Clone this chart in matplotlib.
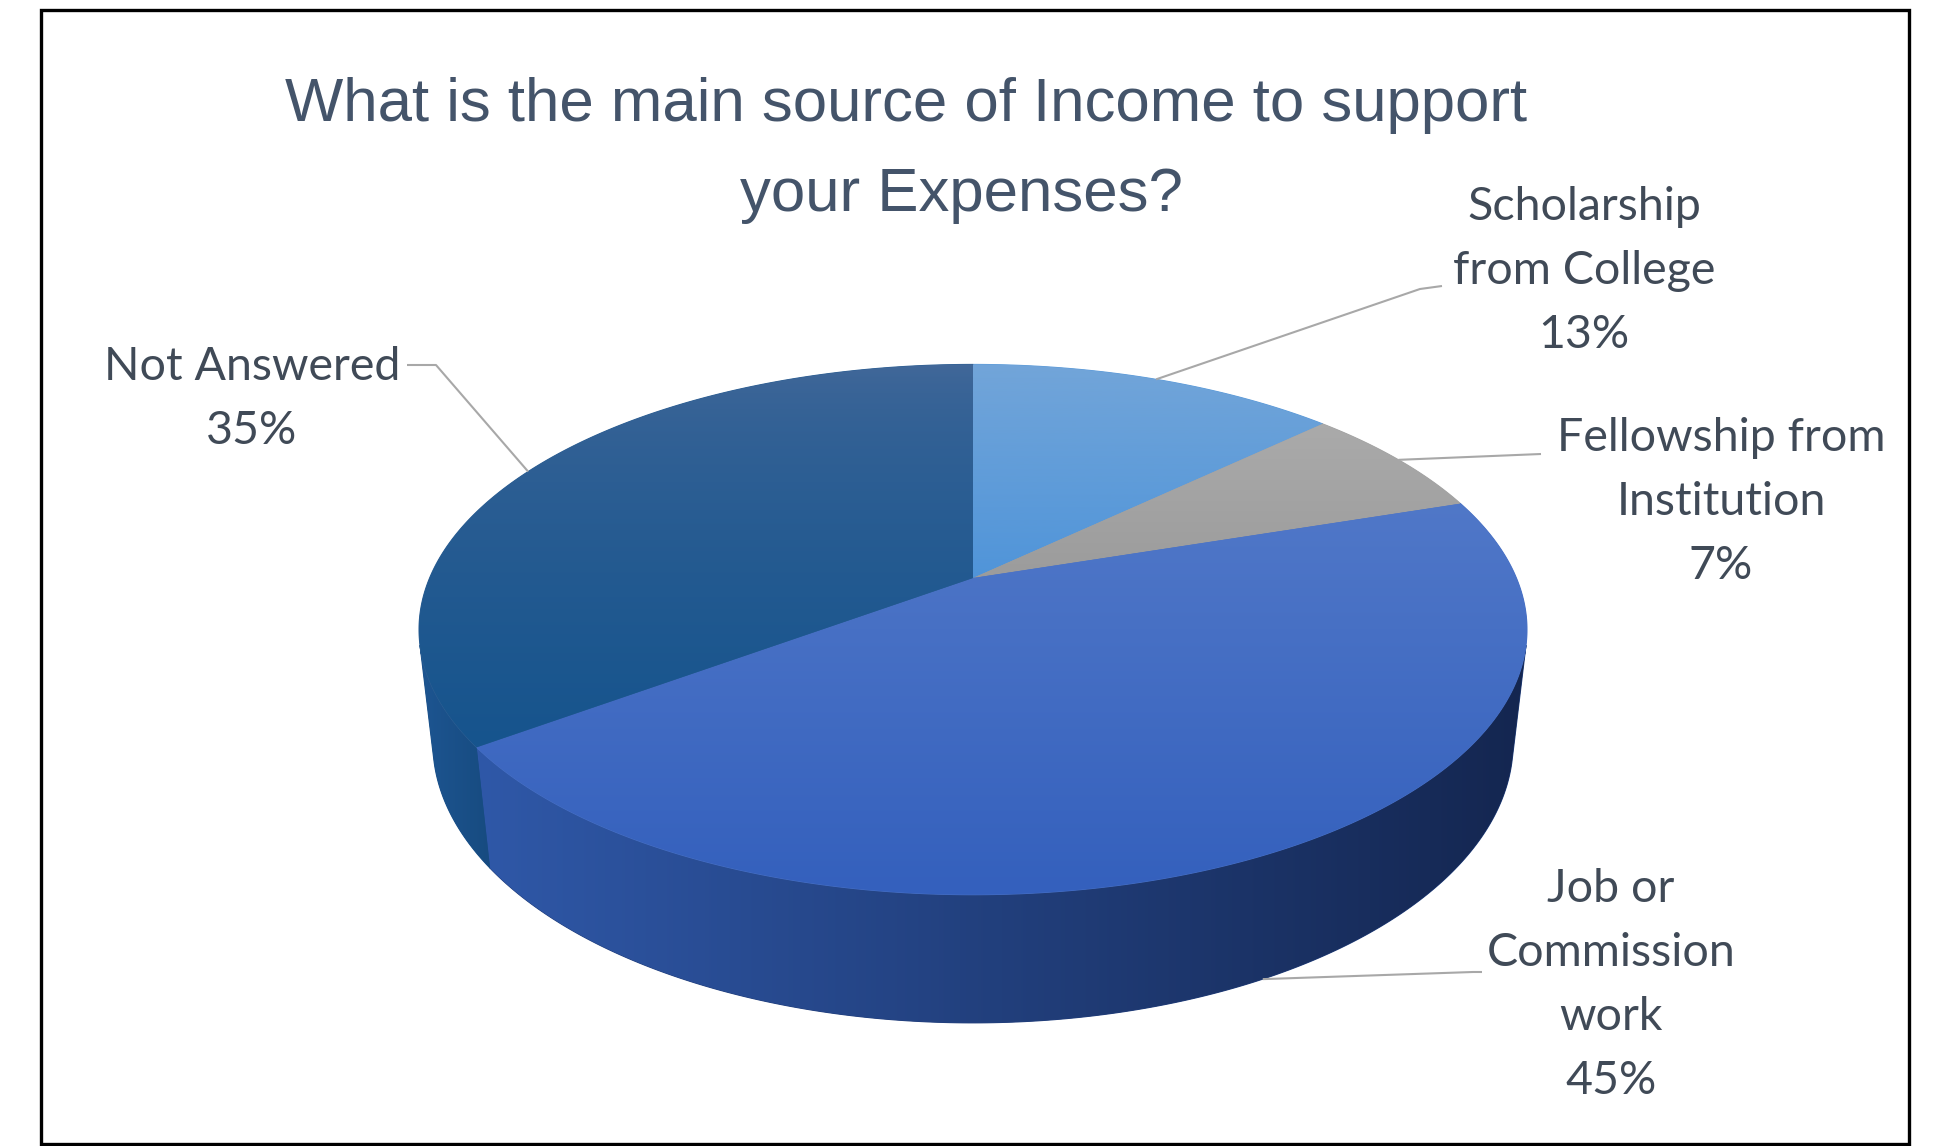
import numpy as np
import matplotlib
matplotlib.use('Agg')
import matplotlib.pyplot as plt
from matplotlib.patches import Polygon, Rectangle
from matplotlib.colors import to_rgb

# survey answers, clockwise from 12 o'clock
names = [['Scholarship', 'from College'],
         ['Fellowship from', 'Institution'],
         ['Job or', 'Commission', 'work'],
         ['Not Answered']]
shares = [13, 7, 45, 35]

top_colors = [('#72a5d9', '#4690d9'), ('#b0b0b0', '#969696'),
              ('#5a80cc', '#3460bd'), ('#44699a', '#16548d')]
top_gamma = [1.0, 1.0, 1.0, 0.55]
side_colors = [('#3a78b8', '#2a5f9a'), ('#7f7f7f', '#6a6a6a'),
               ('#2f58a8', '#142650'), ('#1d5591', '#174b80')]

# label placement (pixel coords): text centre x, first line y, elbow, end
label_pos = [(1584, 207), (1721, 438), (1611, 889), (252, 367)]
leader_pts = [[(1420, 289), (1442, 286)],
              [(1541, 454)],
              [(1473, 972), (1482, 972)],
              [(436, 365), (407, 365)]]
leader_z = [0, 0, 1, 0]   # 1 -> attach to the bottom rim

W, H = 1936, 1146
ELEV = np.radians(28.0)
DIST = 4.54
DEPTH = 0.238
FOCAL = 2467
CX, CY = 973, 578
LINE = 64


def project(theta, z=0.0, r=1.0):
    x = r * np.sin(theta)
    y = r * np.cos(theta)
    c, s = np.cos(ELEV), np.sin(ELEV)
    vy = y + DIST * c
    vz = z - DIST * s
    depth = vy * c - vz * s
    up = vy * s + vz * c
    return CX + FOCAL * x / depth, CY - FOCAL * up / depth


def blend(c0, c1, gamma=1.0, n=256):
    t = np.linspace(0, 1, n)[:, None] ** gamma
    return (1 - t) * np.array(to_rgb(c0)) + t * np.array(to_rgb(c1))


def gradient_poly(ax, xs, ys, c0, c1, extent, horizontal=False, gamma=1.0, z=1):
    pts = np.column_stack([xs, ys])
    mid = tuple(0.5 * (np.array(to_rgb(c0)) + np.array(to_rgb(c1))))
    base = Polygon(pts, closed=True, facecolor=mid, edgecolor=mid, lw=0.8, zorder=z)
    ax.add_patch(base)
    cols = blend(c0, c1, gamma)
    img = cols[None, :, :] if horizontal else cols[:, None, :]
    x0, x1, y0, y1 = extent
    im = ax.imshow(img, extent=(x0, x1, y1, y0), origin='upper', aspect='auto',
                   interpolation='bilinear', zorder=z + 0.1)
    im.set_clip_path(base)


fig = plt.figure(figsize=(W / 100, H / 100), dpi=100)
ax = fig.add_axes([0, 0, 1, 1])
ax.set_axis_off()

bounds = np.radians(np.concatenate([[0], np.cumsum(shares)]) * 3.6)
full = np.linspace(0, 2 * np.pi, 721)
rx, ry = project(full)
vis_cos = -1.0 / (DIST * np.cos(ELEV))

# outer walls (front facing part only)
for i in range(len(shares)):
    th = np.linspace(bounds[i], bounds[i + 1], 300)
    th = th[np.cos(th) < vis_cos]
    if len(th) < 2:
        continue
    tx, ty = project(th, 0)
    bx, by = project(th, -DEPTH)
    xs = np.concatenate([tx, bx[::-1]])
    ys = np.concatenate([ty, by[::-1]])
    gradient_poly(ax, xs, ys, side_colors[i][0], side_colors[i][1],
                  (xs.min(), xs.max(), ys.min(), ys.max()), horizontal=True, z=1)

# top faces
cx0, cy0 = project(0.0, 0, r=0.0)
for i in range(len(shares)):
    th = np.linspace(bounds[i], bounds[i + 1], 300)
    ax_, ay_ = project(th, 0)
    xs = np.concatenate([[cx0], ax_])
    ys = np.concatenate([[cy0], ay_])
    gradient_poly(ax, xs, ys, top_colors[i][0], top_colors[i][1],
                  (rx.min(), rx.max(), ry.min(), max(ys.max(), cy0 + 60)),
                  gamma=top_gamma[i], z=3)

# leader lines and labels
lab_font = ['Lato', 'DejaVu Sans']
for i in range(len(shares)):
    mid = 0.5 * (bounds[i] + bounds[i + 1])
    zz = -DEPTH if leader_z[i] else 0
    px, py = project(mid, zz, r=1.0)
    pts = [(px, py)] + leader_pts[i]
    ax.plot([p[0] for p in pts], [p[1] for p in pts], color='#a8a8a8', lw=1.5,
            zorder=5, solid_capstyle='butt')
    lines = names[i] + [f'{shares[i]}%']
    x, y = label_pos[i]
    for k, s in enumerate(lines):
        ax.text(x, y + k * LINE, s, ha='center', va='center', fontsize=33.5,
                family=lab_font, color='#404a57', zorder=6)

# title
ttl_font = ['Liberation Sans', 'DejaVu Sans']
ax.text(906, 106, 'What is the main source of Income to support', ha='center', va='center',
        fontsize=44.5, family=ttl_font, color='#44546a')
ax.text(961, 196, 'your Expenses?', ha='center', va='center',
        fontsize=44.5, family=ttl_font, color='#44546a')

# chart border
ax.add_patch(Rectangle((41, 10), 1868, 1134, fill=False, edgecolor='black', lw=2.4, zorder=7))

ax.set_xlim(0, W)
ax.set_ylim(H, 0)
fig.savefig('out.png', dpi=100, facecolor='white')
